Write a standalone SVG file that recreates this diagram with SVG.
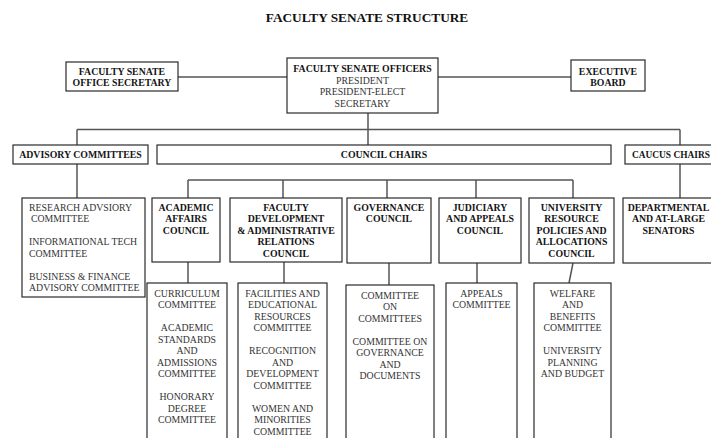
<svg xmlns="http://www.w3.org/2000/svg" width="711" height="438" viewBox="0 0 711 438">
<style>
.box{fill:#fff;stroke:#2a2a2a;stroke-width:1.2}
.con{stroke:#555;stroke-width:1.5;fill:none}
text{font-family:"Liberation Serif","Times New Roman",serif;font-size:9.8px;fill:#333}
.b{font-weight:bold;fill:#151515}
.m{text-anchor:middle}
.title{font-size:13.3px;font-weight:bold;fill:#111;text-anchor:middle}
</style>
<rect width="711" height="438" fill="#fff"/>
<text class="title" x="367" y="22">FACULTY SENATE STRUCTURE</text>

<g id="connectors">
<line class="con" x1="178" y1="77" x2="287" y2="77"/>
<line class="con" x1="438" y1="77" x2="571" y2="77"/>
<line class="con" x1="368" y1="113" x2="368" y2="129.5"/>
<line class="con" x1="77" y1="129.5" x2="680" y2="129.5"/>
<line class="con" x1="77" y1="129.5" x2="77" y2="145"/>
<line class="con" x1="368" y1="129.5" x2="368" y2="145"/>
<line class="con" x1="680" y1="129.5" x2="680" y2="145"/>
<line class="con" x1="77" y1="164" x2="77" y2="198"/>
<line class="con" x1="680" y1="164" x2="680" y2="198"/>
<line class="con" x1="188" y1="180" x2="573" y2="180"/>
<line class="con" x1="188" y1="180" x2="188" y2="198"/>
<line class="con" x1="283" y1="180" x2="283" y2="198"/>
<line class="con" x1="387" y1="180" x2="387" y2="198"/>
<line class="con" x1="476" y1="180" x2="476" y2="198"/>
<line class="con" x1="573" y1="180" x2="573" y2="198"/>
<line class="con" x1="188" y1="262" x2="188" y2="283"/>
<line class="con" x1="284" y1="262" x2="284" y2="283"/>
<line class="con" x1="389" y1="263" x2="389" y2="285"/>
<line class="con" x1="477" y1="263" x2="477" y2="283"/>
<line class="con" x1="573" y1="263" x2="569" y2="283"/>
</g>

<g id="office-secretary">
<rect class="box" x="66" y="62" width="112" height="29"/>
<text class="b m" x="122" y="75">FACULTY SENATE</text>
<text class="b m" x="122" y="86">OFFICE SECRETARY</text>
</g>

<g id="officers">
<rect class="box" x="287" y="58" width="151" height="55"/>
<text class="b m" x="362.5" y="72">FACULTY SENATE OFFICERS</text>
<text class="m" x="362.5" y="83.5">PRESIDENT</text>
<text class="m" x="362.5" y="95">PRESIDENT-ELECT</text>
<text class="m" x="362.5" y="106.5">SECRETARY</text>
</g>

<g id="executive-board">
<rect class="box" x="571" y="60" width="74" height="31"/>
<text class="b m" x="608" y="74.5">EXECUTIVE</text>
<text class="b m" x="608" y="85.5">BOARD</text>
</g>

<g id="advisory-committees">
<rect class="box" x="13" y="145" width="135" height="19"/>
<text class="b m" x="80.5" y="158">ADVISORY COMMITTEES</text>
</g>

<g id="council-chairs">
<rect class="box" x="157" y="145" width="454" height="19"/>
<text class="b m" x="384" y="158">COUNCIL CHAIRS</text>
</g>

<g id="caucus-chairs">
<rect class="box" x="625" y="145" width="100" height="19"/>
<text class="b" x="632" y="158" style="font-size:9.4px">CAUCUS CHAIRS</text>
</g>

<g id="advisory-list">
<rect class="box" x="22" y="198" width="123" height="99"/>
<text x="29" y="210.5">RESEARCH ADVSIORY</text>
<text x="31" y="222">COMMITTEE</text>
<text x="29" y="245">INFORMATIONAL TECH</text>
<text x="29" y="256.5">COMMITTEE</text>
<text x="29" y="279.5">BUSINESS &amp; FINANCE</text>
<text x="29" y="291">ADVISORY COMMITTEE</text>
</g>

<g id="academic-affairs">
<rect class="box" x="152" y="198" width="68" height="64"/>
<text class="b m" x="186" y="210.5">ACADEMIC</text>
<text class="b m" x="186" y="222">AFFAIRS</text>
<text class="b m" x="186" y="233.5">COUNCIL</text>
</g>

<g id="faculty-development">
<rect class="box" x="230" y="198" width="112" height="64"/>
<text class="b m" x="286" y="210.5">FACULTY</text>
<text class="b m" x="286" y="222">DEVELOPMENT</text>
<text class="b m" x="286" y="233.5">&amp; ADMINISTRATIVE</text>
<text class="b m" x="286" y="245">RELATIONS</text>
<text class="b m" x="286" y="256.5">COUNCIL</text>
</g>

<g id="governance">
<rect class="box" x="347" y="198" width="84" height="65"/>
<text class="b m" x="389" y="210.5">GOVERNANCE</text>
<text class="b m" x="389" y="222">COUNCIL</text>
</g>

<g id="judiciary">
<rect class="box" x="439" y="198" width="82" height="65"/>
<text class="b m" x="480" y="210.5">JUDICIARY</text>
<text class="b m" x="480" y="222">AND APPEALS</text>
<text class="b m" x="480" y="233.5">COUNCIL</text>
</g>

<g id="university-resource">
<rect class="box" x="529" y="198" width="85" height="65"/>
<text class="b m" x="571.5" y="210.5">UNIVERSITY</text>
<text class="b m" x="571.5" y="222">RESOURCE</text>
<text class="b m" x="571.5" y="233.5">POLICIES AND</text>
<text class="b m" x="571.5" y="245">ALLOCATIONS</text>
<text class="b m" x="571.5" y="256.5">COUNCIL</text>
</g>

<g id="departmental">
<rect class="box" x="623" y="198" width="100" height="65"/>
<text class="b m" x="668.5" y="210.5">DEPARTMENTAL</text>
<text class="b m" x="668.5" y="222">AND AT-LARGE</text>
<text class="b m" x="668.5" y="233.5">SENATORS</text>
</g>

<g id="academic-committees">
<rect class="box" x="147" y="283" width="80" height="160"/>
<text class="m" x="187" y="296.5">CURRICULUM</text>
<text class="m" x="187" y="308">COMMITTEE</text>
<text class="m" x="187" y="331">ACADEMIC</text>
<text class="m" x="187" y="342.5">STANDARDS</text>
<text class="m" x="187" y="354">AND</text>
<text class="m" x="187" y="365.5">ADMISSIONS</text>
<text class="m" x="187" y="377">COMMITTEE</text>
<text class="m" x="187" y="400">HONORARY</text>
<text class="m" x="187" y="411.5">DEGREE</text>
<text class="m" x="187" y="423">COMMITTEE</text>
</g>

<g id="faculty-committees">
<rect class="box" x="238" y="283" width="89" height="160"/>
<text class="m" x="282.5" y="296.5">FACILITIES AND</text>
<text class="m" x="282.5" y="308">EDUCATIONAL</text>
<text class="m" x="282.5" y="319.5">RESOURCES</text>
<text class="m" x="282.5" y="331">COMMITTEE</text>
<text class="m" x="282.5" y="354">RECOGNITION</text>
<text class="m" x="282.5" y="365.5">AND</text>
<text class="m" x="282.5" y="377">DEVELOPMENT</text>
<text class="m" x="282.5" y="388.5">COMMITTEE</text>
<text class="m" x="282.5" y="411.5">WOMEN AND</text>
<text class="m" x="282.5" y="423">MINORITIES</text>
<text class="m" x="282.5" y="434.5">COMMITTEE</text>
</g>

<g id="governance-committees">
<rect class="box" x="346" y="285" width="88" height="160"/>
<text class="m" x="390" y="298.5">COMMITTEE</text>
<text class="m" x="390" y="310">ON</text>
<text class="m" x="390" y="321.5">COMMITTEES</text>
<text class="m" x="390" y="344.5">COMMITTEE ON</text>
<text class="m" x="390" y="356">GOVERNANCE</text>
<text class="m" x="390" y="367.5">AND</text>
<text class="m" x="390" y="379">DOCUMENTS</text>
</g>

<g id="appeals-committees">
<rect class="box" x="446" y="283" width="71" height="160"/>
<text class="m" x="481.5" y="296.5">APPEALS</text>
<text class="m" x="481.5" y="308">COMMITTEE</text>
</g>

<g id="resource-committees">
<rect class="box" x="534" y="283" width="77" height="160"/>
<text class="m" x="572.5" y="296.5">WELFARE</text>
<text class="m" x="572.5" y="308">AND</text>
<text class="m" x="572.5" y="319.5">BENEFITS</text>
<text class="m" x="572.5" y="331">COMMITTEE</text>
<text class="m" x="572.5" y="354">UNIVERSITY</text>
<text class="m" x="572.5" y="365.5">PLANNING</text>
<text class="m" x="572.5" y="377">AND BUDGET</text>
</g>
</svg>
